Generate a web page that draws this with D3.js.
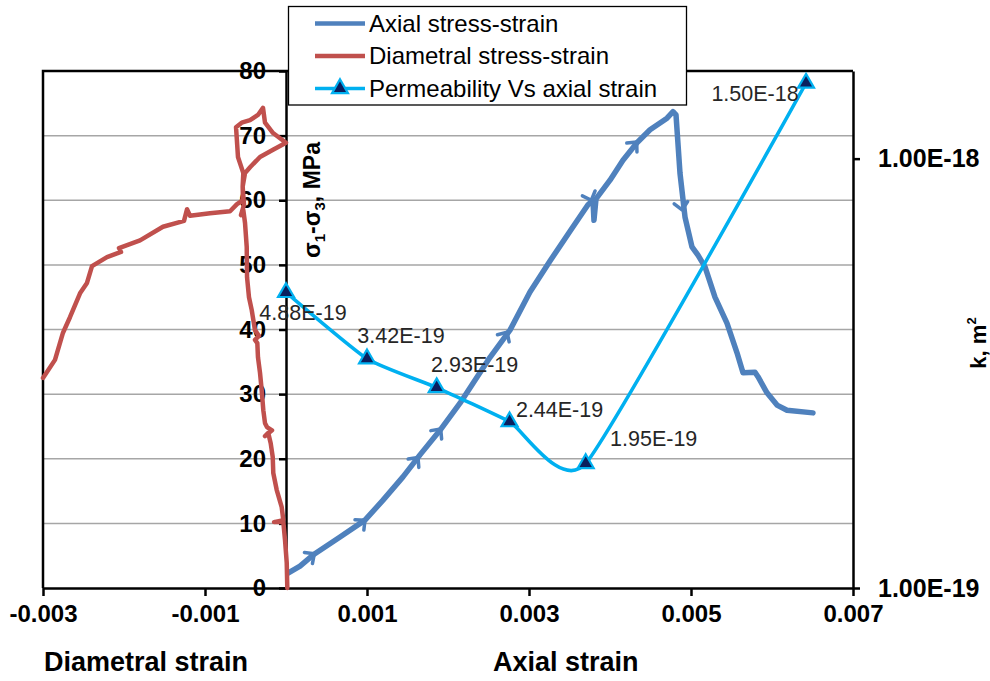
<!DOCTYPE html>
<html>
<head>
<meta charset="utf-8">
<script src="https://cdn.jsdelivr.net/npm/d3@7"></script>
<style>
  body { margin: 0; background: #fff; }
  svg { display: block; }
  text { font-family: "Liberation Sans", Arial, sans-serif; }
</style>
</head>
<body>
<svg id="chart" width="990" height="681"></svg>
<script>
// ---- Axial stress-strain record (axial strain in microstrain, deviator stress in MPa)
const axialMicrostrain = [25, 173, 333, 667, 975, 1198, 1444, 1654, 1901, 2148, 2309, 2519, 2765,
  3012, 3259, 3506, 3728, 3790, 3802, 3827, 4000, 4160, 4333, 4494, 4704, 4778, 4815, 4864,
  4926, 5012, 5086, 5173, 5296, 5444, 5568, 5642, 5790, 5827, 5938, 6062, 6185, 6506];
const axialStress = [2.3, 3.4, 5.1, 7.9, 10.5, 13.6, 17.2, 20.6, 24.4, 28.6, 31.7, 35.7, 39.9,
  45.8, 50.6, 55.2, 59.3, 60.0, 56.9, 60.2, 63.1, 66.2, 68.9, 70.9, 72.7, 73.7, 73.2, 64.2,
  57.4, 52.8, 51.5, 49.7, 45.0, 41.0, 36.4, 33.3, 33.4, 32.7, 30.2, 28.3, 27.5, 27.1];

// Direction arrows along the axial loading path
const arrowMicrostrain = [350, 975, 1630, 1910, 2730, 3770, 4330, 4890];
const arrowStress = [5.3, 10.5, 20.2, 24.6, 39.6, 60.0, 69.0, 58.5];

// ---- Diametral stress-strain record (diametral strain in microstrain, stress in MPa)
const diaMicrostrain = [16, 9, -12, -33, -148, -33, -53, -115, -157, -164, -189, -219, -259, -173,
  -235, -259, -280, -300, -321, -346, -354, -383, -333, -383, -423, -457, -481, -485, -506, -527,
  -556, -519, -535, -527, -593, -609, -617, -547, -444, -346, -284, -259, -160, 0, -160, -321,
  -444, -506, -535, -531, -605, -691, -938, -1185, -1222, -1259, -1519, -1802, -2062, -2037,
  -2210, -2395, -2457, -2543, -2667, -2753, -2852, -3000];
const diaStress = [0, 3.9, 7.4, 10.2, 10.2, 10.5, 12.5, 15.2, 17.8, 20.3, 22.4, 24.0, 23.5, 24.4,
  24.9, 25.5, 27.5, 30.6, 33.3, 35.7, 37.9, 38.4, 39.0, 39.9, 43.0, 45.0, 48.1, 52.8, 56.5, 58.5,
  57.7, 59.3, 62.1, 64.2, 66.7, 69.8, 71.3, 72.0, 72.4, 73.2, 74.3, 72.0, 70.4, 68.9, 67.8, 66.7,
  65.1, 64.2, 62.1, 60.0, 59.4, 58.3, 58.0, 57.6, 58.6, 56.8, 55.9, 53.8, 52.6, 52.0, 51.2, 49.8,
  47.2, 45.6, 41.9, 39.5, 35.3, 32.5];

// ---- Permeability vs axial strain (k in m^2)
const permStrain = [0, 0.001, 0.00186, 0.00276, 0.0037, 0.00642];
const permK = [4.88e-19, 3.42e-19, 2.93e-19, 2.44e-19, 1.95e-19, 1.50e-18];

// ---- Axes
const strainDomain = [-0.003, 0.007];
const strainTicks = [-0.003, -0.001, 0.001, 0.003, 0.005, 0.007];
const stressDomain = [0, 80];
const stressTicks = [0, 10, 20, 30, 40, 50, 60, 70, 80];
const kDomain = [1e-19, 1.6e-18];
const kTicks = [1e-19, 1e-18];

const seriesNames = ["Axial stress-strain", "Diametral stress-strain", "Permeability Vs axial strain"];

// ---- Layout
const plot = { left: 43, right: 853, top: 71, bottom: 588 };
const colors = { axial: "#4F81BD", dia: "#C0504D", perm: "#00B0F0", marker: "#0B1F5E", grid: "#A6A6A6" };
// label placement (centre dx, baseline dy) relative to each permeability point
const labelOffsets = [[17, 28], [34, -16], [38, -16], [50, -5], [68, -17], [-51, 18]];

const svg = d3.select("#chart");
const x = d3.scaleLinear().domain(strainDomain).range([plot.left, plot.right]);
const y = d3.scaleLinear().domain(stressDomain).range([plot.bottom, plot.top]);
const yk = d3.scaleLog().domain(kDomain).range([plot.bottom, plot.top]);
const sci = d => d3.format(".2e")(d).replace("\u2212", "-").toUpperCase();

// gridlines
svg.append("g").selectAll("line")
  .data(stressTicks.filter(t => t > stressDomain[0] && t < stressDomain[1]))
  .join("line")
  .attr("x1", plot.left).attr("x2", plot.right)
  .attr("y1", d => y(d)).attr("y2", d => y(d))
  .attr("stroke", colors.grid).attr("stroke-width", 1.5);

// plot frame (left and top edges)
svg.append("path")
  .attr("d", `M${plot.left},${plot.bottom}V${plot.top}H${plot.right}`)
  .attr("fill", "none").attr("stroke", "#000").attr("stroke-width", 2.5);

const boldTick = (g, size) => {
  g.selectAll("text").attr("font-size", size).attr("font-weight", "bold").attr("fill", "#000")
    .attr("font-family", "'Liberation Sans', Arial, sans-serif");
  g.selectAll("line").attr("stroke", "#000").attr("stroke-width", 2.5);
  g.select(".domain").attr("stroke", "#000").attr("stroke-width", 2.5);
};

// bottom strain axis
svg.append("g").attr("transform", `translate(0,${plot.bottom})`)
  .call(d3.axisBottom(x).tickValues(strainTicks).tickSize(8).tickSizeOuter(0).tickPadding(9)
    .tickFormat(d => d.toFixed(3)))
  .call(g => boldTick(g, 24));

// stress axis at zero strain
svg.append("g").attr("transform", `translate(${x(0)},0)`)
  .call(d3.axisLeft(y).tickValues(stressTicks).tickSize(7).tickSizeOuter(0).tickPadding(13)
    .tickFormat(d3.format("d")))
  .call(g => boldTick(g, 24));

// permeability axis (log)
svg.append("g").attr("transform", `translate(${plot.right},0)`)
  .call(d3.axisRight(yk).tickValues(kTicks).tickSize(7).tickSizeOuter(0).tickPadding(18)
    .tickFormat(sci))
  .call(g => boldTick(g, 25));

// ---- Series
const axialPts = axialMicrostrain.map((s, i) => [x(s * 1e-6), y(axialStress[i])]);
const diaPts = diaMicrostrain.map((s, i) => [x(s * 1e-6), y(diaStress[i])]);
const lineGen = d3.line();

svg.append("path").attr("d", lineGen(axialPts))
  .attr("fill", "none").attr("stroke", colors.axial).attr("stroke-width", 5.5)
  .attr("stroke-linejoin", "round").attr("stroke-linecap", "round");

// direction arrowheads on the axial path
const arrowPath = (sx, sy) => {
  const px = x(sx * 1e-6), py = y(sy);
  let best = 1;
  let bd = Infinity;
  for (let i = 1; i < axialPts.length - 1; i++) {
    const d = Math.hypot(axialPts[i][0] - px, axialPts[i][1] - py);
    if (d < bd) { bd = d; best = i; }
  }
  const a = axialPts[best - 1], b = axialPts[best + 1];
  const ang = Math.atan2(b[1] - a[1], b[0] - a[0]);
  const L = 10, spread = 0.75;
  const p1 = [px - L * Math.cos(ang - spread), py - L * Math.sin(ang - spread)];
  const p2 = [px - L * Math.cos(ang + spread), py - L * Math.sin(ang + spread)];
  return `M${p1}L${px},${py}L${p2}`;
};
svg.append("g").selectAll("path")
  .data(arrowMicrostrain.map((s, i) => [s, arrowStress[i]]))
  .join("path")
  .attr("d", d => arrowPath(d[0], d[1]))
  .attr("fill", "none").attr("stroke", colors.axial).attr("stroke-width", 3.5)
  .attr("stroke-linecap", "round").attr("stroke-linejoin", "round");

svg.append("path").attr("d", lineGen(diaPts))
  .attr("fill", "none").attr("stroke", colors.dia).attr("stroke-width", 4.5)
  .attr("stroke-linejoin", "round").attr("stroke-linecap", "round");

const permPts = permStrain.map((s, i) => [x(s), yk(permK[i])]);
svg.append("path")
  .attr("d", d3.line().curve(d3.curveCardinal.tension(0.5))(permPts))
  .attr("fill", "none").attr("stroke", colors.perm).attr("stroke-width", 3.5);

const tri = d3.symbol().type(d3.symbolTriangle).size(110);
svg.append("g").selectAll("path")
  .data(permPts)
  .join("path")
  .attr("transform", d => `translate(${d[0]},${d[1]})`)
  .attr("d", tri)
  .attr("fill", colors.marker).attr("stroke", colors.perm).attr("stroke-width", 2.2);

svg.append("g").selectAll("text")
  .data(permPts)
  .join("text")
  .attr("x", (d, i) => d[0] + labelOffsets[i][0])
  .attr("y", (d, i) => d[1] + labelOffsets[i][1])
  .attr("text-anchor", "middle")
  .attr("font-size", 21.5).attr("fill", "#262626")
  .text((d, i) => sci(permK[i]));

// ---- Axis titles
svg.append("text").attr("x", 44).attr("y", 671)
  .attr("font-size", 27).attr("font-weight", "bold").text("Diametral strain");
svg.append("text").attr("x", 493).attr("y", 671)
  .attr("font-size", 27).attr("font-weight", "bold").text("Axial strain");

const yTitle = svg.append("text")
  .attr("transform", "translate(320,200) rotate(-90)")
  .attr("text-anchor", "middle").attr("font-size", 23).attr("font-weight", "bold");
yTitle.append("tspan").text("\u03C3");
yTitle.append("tspan").attr("font-size", 15).attr("dy", 5).text("1");
yTitle.append("tspan").attr("dy", -5).text("-\u03C3");
yTitle.append("tspan").attr("font-size", 15).attr("dy", 5).text("3");
yTitle.append("tspan").attr("dy", -5).text(", MPa");

const kTitle = svg.append("text")
  .attr("transform", "translate(986,343) rotate(-90)")
  .attr("text-anchor", "middle").attr("font-size", 22).attr("font-weight", "bold");
kTitle.append("tspan").text("k, m");
kTitle.append("tspan").attr("font-size", 13).attr("dy", -10).text("2");

// ---- Legend
const legend = svg.append("g");
legend.append("rect").attr("x", 288.5).attr("y", 6.5).attr("width", 398).attr("height", 98.5)
  .attr("fill", "#fff").attr("stroke", "#000").attr("stroke-width", 1.3);
const legRows = [23.5, 56, 88.5];
const legColors = [colors.axial, colors.dia, colors.perm];
legend.selectAll("line").data(seriesNames).join("line")
  .attr("x1", 315).attr("x2", 365)
  .attr("y1", (d, i) => legRows[i]).attr("y2", (d, i) => legRows[i])
  .attr("stroke", (d, i) => legColors[i]).attr("stroke-width", (d, i) => i === 2 ? 3.5 : 4.5);
legend.append("path").attr("transform", `translate(340,${legRows[2]})`).attr("d", tri)
  .attr("fill", colors.marker).attr("stroke", colors.perm).attr("stroke-width", 2.2);
legend.selectAll("text").data(seriesNames).join("text")
  .attr("x", 369).attr("y", (d, i) => legRows[i] + 8.3)
  .attr("font-size", 24).attr("fill", "#000").text(d => d);
</script>
</body>
</html>
